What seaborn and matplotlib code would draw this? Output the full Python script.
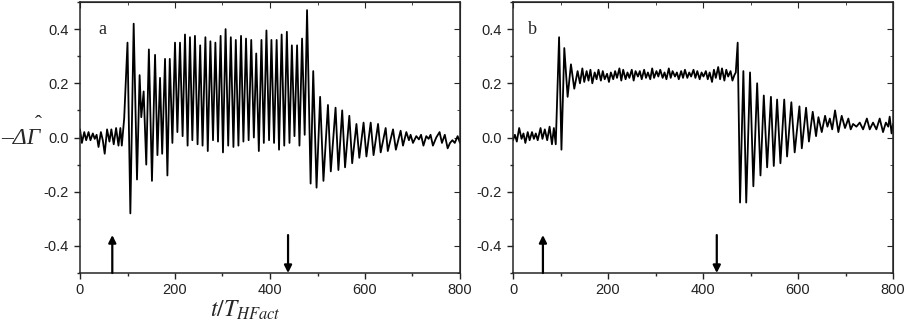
import numpy as np
import pandas as pd
import matplotlib
matplotlib.use("Agg")
import matplotlib.pyplot as plt
from matplotlib.ticker import MultipleLocator
import seaborn as sns

# panel a: extrema (time t/T_HFact, -dGamma)
t_a = [0, 4, 9, 13, 18, 22, 27, 31, 35, 39, 44, 48, 52, 57, 62, 66, 71, 76, 81, 85, 88,
       93, 100, 106, 113, 120, 125.5, 129, 134, 139.5, 145, 151.5, 158, 163, 168.5, 173,
       179, 184, 189, 194.5,
       200, 205, 210.5, 216, 221, 226.5, 231.5, 236.5, 242, 247.5,
       253, 258, 264, 269, 274.5, 280, 285, 290.5, 296, 301, 306.5, 312, 317.5, 323,
       328, 333.5, 339, 344, 349.5, 355, 360.5, 366, 371, 376.5, 382, 387, 392.5, 398,
       403, 408.5, 414, 419, 424.5, 430, 435.5, 441, 446, 451.5, 457, 462, 467.5, 473, 478,
       485.5, 491, 498, 505.5, 512.5, 522, 528, 538, 544, 552, 558, 567, 573, 582, 588,
       597, 603, 612, 618, 627.5, 633, 643.5, 648, 659, 665, 675, 680,
       687, 692.5, 696, 701, 708, 713.5, 718, 723, 729, 734, 738, 743, 750, 757, 762,
       768, 774, 779, 784, 789, 795, 800]
y_a = [0.03, -0.02, 0.02, -0.01, 0.02, -0.01, 0.015, -0.005, 0.01, -0.035, 0.02, -0.01,
       -0.06, 0.03, -0.015, 0.03, -0.025, 0.035, -0.03, 0.035, -0.03,
       0.07, 0.35, -0.28, 0.42, -0.155, 0.23, 0.075, 0.17, -0.10, 0.325, -0.16, 0.305,
       -0.065, 0.22, -0.06, 0.29, -0.14, 0.29, -0.02,
       0.35, 0.02, 0.35, 0.005, 0.38, -0.03, 0.37, -0.01, 0.375, -0.025,
       0.34, -0.03, 0.37, -0.05, 0.355, -0.01, 0.35, -0.015, 0.375, -0.055, 0.40, -0.03,
       0.37, -0.035, 0.36, -0.03, 0.375, -0.015, 0.365, -0.01, 0.36, 0.0, 0.31, -0.05,
       0.36, -0.02, 0.395, -0.01, 0.36, -0.02, 0.36, -0.045, 0.38, -0.03, 0.39, -0.02,
       0.34, 0.005, 0.34, -0.03, 0.365, 0.01, 0.47,
       -0.17, 0.245, -0.185, 0.15, -0.16, 0.12, -0.125, 0.11, -0.12, 0.10, -0.11, 0.08,
       -0.095, 0.05, -0.075, 0.055, -0.07, 0.055, -0.065, 0.05, -0.055, 0.035, -0.05,
       0.03, -0.045, 0.025, -0.03,
       0.02, -0.01, 0.01, -0.02, 0.005, -0.007, 0.01, -0.03, 0.005, -0.005, 0.01, -0.03,
       0.0, 0.02, -0.02, 0.01, -0.04, -0.02, -0.01, -0.02, 0.005, -0.02]

# panel b
t_b = [0, 4, 8, 13, 18, 22, 26, 31, 35, 40, 44, 48, 52, 58, 62, 67, 72, 77, 82, 86, 90,
       97, 102, 108, 115, 122, 129, 136, 141,
       146, 150, 155, 159, 163, 167, 172, 176, 180, 185, 189, 193, 198, 202, 206, 211,
       215, 219, 224, 228, 232, 237, 241, 245, 250, 254, 258, 263, 267, 271, 276, 280,
       284, 289, 293, 297, 302, 306, 310, 315, 319, 323, 328, 332, 336, 341, 345, 349,
       354, 358, 362, 367, 371, 375, 380, 384, 388, 393, 397, 401, 406, 410, 414, 419,
       423, 427, 432, 436, 440, 445, 449, 453, 458, 462, 466, 469,
       473, 478, 485, 491, 499, 506, 514, 521, 528, 535, 543, 549, 556, 563, 571, 577,
       586, 593, 603, 608, 617, 623, 631, 638, 643, 650, 657, 662, 667, 672, 678, 685,
       692, 699, 706, 711, 716, 723, 730, 737, 745, 751, 758, 765, 772, 779, 785, 790,
       793, 797, 800]
y_b = [-0.01, 0.01, -0.015, 0.035, -0.005, 0.015, -0.02, 0.02, -0.01, 0.02, -0.005, 0.015,
       -0.01, 0.035, -0.005, 0.03, -0.01, 0.04, -0.025, 0.035, -0.025,
       0.37, -0.045, 0.33, 0.15, 0.27, 0.18, 0.245, 0.2,
       0.255, 0.205, 0.245, 0.21, 0.25, 0.2, 0.24, 0.215, 0.25, 0.21, 0.245, 0.215,
       0.235, 0.205, 0.24, 0.215, 0.245, 0.22, 0.255, 0.21, 0.25, 0.215, 0.24, 0.22,
       0.25, 0.21, 0.245, 0.225, 0.245, 0.215, 0.25, 0.22, 0.24, 0.215, 0.255, 0.22,
       0.245, 0.225, 0.25, 0.22, 0.24, 0.215, 0.255, 0.22, 0.245, 0.225, 0.24, 0.215,
       0.245, 0.22, 0.25, 0.22, 0.24, 0.225, 0.25, 0.22, 0.245, 0.215, 0.24, 0.225,
       0.245, 0.215, 0.24, 0.205, 0.25, 0.22, 0.26, 0.215, 0.255, 0.21, 0.25, 0.225,
       0.245, 0.21, 0.23, 0.24,
       0.35, -0.24, 0.245, -0.24, 0.24, -0.18, 0.2, -0.14, 0.155, -0.11, 0.15, -0.105,
       0.14, -0.095, 0.14, -0.07, 0.13, -0.055, 0.115, -0.04, 0.11, -0.015, 0.095, 0.005,
       0.075, 0.02, 0.08, 0.04, 0.07, 0.03, 0.10, 0.02, 0.08, 0.035, 0.07, 0.03, 0.05,
       0.04, 0.055, 0.03, 0.07, 0.03, 0.055, 0.03, 0.07, 0.02, 0.055, 0.04, 0.077,
       0.015, 0.05]

# arrows: (time of switch on, time of switch off) for each panel
arrows_a = [68, 438]
arrows_b = [63, 429]

sns.set_style("ticks")
plt.rcParams['font.family'] = ['Liberation Sans', 'DejaVu Sans']
plt.rcParams['mathtext.fontset'] = 'stix'
plt.rcParams['axes.unicode_minus'] = False

fig = plt.figure(figsize=(9.06, 3.25), dpi=100)
W, H = 906, 325
ax_a = fig.add_axes([80 / W, 52 / H, 380 / W, 271 / H])
ax_b = fig.add_axes([513 / W, 52 / H, 380 / W, 271 / H])

panels = [(ax_a, t_a, y_a, 'a', arrows_a), (ax_b, t_b, y_b, 'b', arrows_b)]
for ax, t, y, letter, arr in panels:
    df = pd.DataFrame({'t': t, 'y': y})
    sns.lineplot(data=df, x='t', y='y', ax=ax, color='black', lw=1.3,
                 estimator=None, sort=False)
    ax.set_xlim(0, 800)
    ax.set_ylim(-0.5, 0.5)
    ax.xaxis.set_major_locator(MultipleLocator(200))
    ax.xaxis.set_minor_locator(MultipleLocator(100))
    ax.yaxis.set_major_locator(MultipleLocator(0.2))
    ax.yaxis.set_minor_locator(MultipleLocator(0.1))
    ax.yaxis.set_major_formatter(matplotlib.ticker.FormatStrFormatter('%.1f'))
    ax.tick_params(axis='both', which='major', length=4.5, width=1, labelsize=10.5,
                   colors='#222222', direction='out')
    ax.tick_params(axis='both', which='minor', length=2.5, width=1, direction='out')
    ax.tick_params(axis='x', pad=2.5)
    ax.tick_params(axis='y', pad=3.5)
    for s in ax.spines.values():
        s.set_visible(True)
        s.set_linewidth(1.1)
    # inward ticks on the top and right frame
    top = ax.secondary_xaxis('top')
    top.xaxis.set_major_locator(MultipleLocator(200))
    top.xaxis.set_minor_locator(MultipleLocator(100))
    top.tick_params(which='major', direction='in', length=4.5, labeltop=False)
    top.tick_params(which='minor', direction='in', length=2.5)
    right = ax.secondary_yaxis('right')
    right.yaxis.set_major_locator(MultipleLocator(0.2))
    right.yaxis.set_minor_locator(MultipleLocator(0.1))
    right.tick_params(which='major', direction='in', length=4.5, labelright=False)
    right.tick_params(which='minor', direction='in', length=2.5)
    ax.set_xlabel('')
    ax.set_ylabel('')
    ax.text(0.06 if letter == 'a' else 0.05, 0.9, letter, transform=ax.transAxes,
            fontsize=13, family='Liberation Serif', ha='center', va='center')
    ax.annotate('', xy=(arr[0], -0.36), xytext=(arr[0], -0.5),
                arrowprops=dict(arrowstyle='-|>', color='black', lw=1.6,
                                mutation_scale=11, shrinkA=0, shrinkB=0))
    ax.annotate('', xy=(arr[1], -0.5), xytext=(arr[1], -0.36),
                arrowprops=dict(arrowstyle='-|>', color='black', lw=1.6,
                                mutation_scale=11, shrinkA=0, shrinkB=0))

# y label: italic serif "-ΔΓ" with a hat over Γ
fig.text(21 / W, 1 - 139 / H, '\u2013\u0394\u0393', fontsize=17, style='italic',
         family='Liberation Serif', ha='center', va='center')
fig.text(38 / W, 1 - 125 / H, '\u02c6', fontsize=15, family='Liberation Serif',
         ha='center', va='center')
ax_a.set_xlabel(r'$t/T_{HFact}$', fontsize=17, va='top')
ax_a.xaxis.set_label_coords(0.435, -0.095)

fig.savefig('out.png', dpi=100)
